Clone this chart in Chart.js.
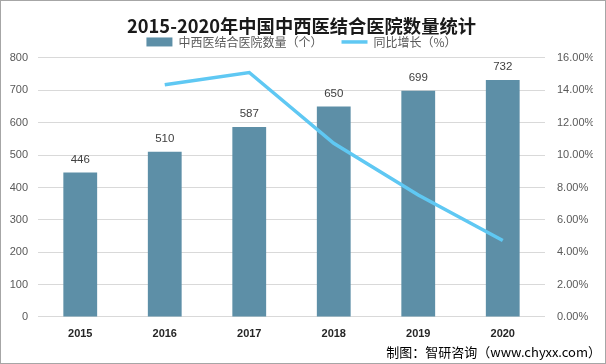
<!DOCTYPE html>
<html>
<head>
<meta charset="utf-8">
<script src="https://cdn.jsdelivr.net/npm/chart.js@4"></script>
<style>
  html, body { margin: 0; padding: 0; background: #fff; }
  #wrap {
    position: relative;
    width: 606px;
    height: 364px;
    box-sizing: border-box;
    border: 1px solid #a6a6a6;
  }
  #chart { display: block; }
  #source {
    position: absolute;
    right: 4px;
    bottom: 2px;
    font-family: "Noto Sans CJK SC", "Noto Sans", sans-serif;
    font-size: 13px;
    color: #000;
  }
</style>
</head>
<body>
<div id="wrap">
  <canvas id="chart" width="604" height="362"></canvas>
  <div id="source">制图：智研咨询（www.chyxx.com）</div>
</div>
<script>
// chart data
const years = ['2015', '2016', '2017', '2018', '2019', '2020'];
const hospitalCount = [446, 510, 587, 650, 699, 732];
const growthRate = [null, 14.35, 15.10, 10.73, 7.54, 4.72];
const leftTicks = [0, 800, 100];
const rightTicks = [0, 16, 2];

const cjkFont = "'Noto Sans CJK SC', 'Microsoft YaHei', sans-serif";
const numFont = "'Liberation Sans', Arial, sans-serif";
const axisColor = '#595959';

// value labels above the bars
const barLabels = {
    id: 'barLabels',
    afterDatasetsDraw(chart) {
        const ctx = chart.ctx;
        const meta = chart.getDatasetMeta(1);
        ctx.save();
        ctx.font = "11.5px " + numFont;
        ctx.fillStyle = '#404040';
        ctx.textAlign = 'center';
        ctx.textBaseline = 'middle';
        meta.data.forEach(function(bar, i) {
            ctx.fillText(String(hospitalCount[i]), bar.x, bar.y - 13);
        });
        ctx.restore();
    }
};

const canvas = document.getElementById('chart');
const ctx = canvas.getContext('2d');

new Chart(ctx, {
    type: 'bar',
    data: {
        labels: years,
        datasets: [
            {
                type: 'line',
                label: '同比增长（%）',
                data: growthRate,
                yAxisID: 'y1',
                borderColor: '#5fc8f3',
                backgroundColor: '#5fc8f3',
                borderWidth: 3.5,
                pointRadius: 0,
                tension: 0,
                spanGaps: false,
                order: 0
            },
            {
                type: 'bar',
                label: '中西医结合医院数量（个）',
                data: hospitalCount,
                yAxisID: 'y',
                backgroundColor: '#5d8fa7',
                barPercentage: 0.4,
                categoryPercentage: 1.0,
                order: 1
            }
        ]
    },
    options: {
        responsive: false,
        animation: false,
        layout: {
            padding: { left: 9, right: 12, top: 0, bottom: 23 }
        },
        plugins: {
            title: {
                display: true,
                text: '2015-2020年中国中西医结合医院数量统计',
                color: '#1a1a1a',
                font: { size: 18.3, weight: 'bold', family: cjkFont },
                padding: { top: 14, bottom: -6 }
            },
            legend: {
                position: 'top',
                labels: {
                    color: axisColor,
                    font: { size: 12, family: cjkFont },
                    usePointStyle: true,
                    pointStyleWidth: 26,
                    boxHeight: 9,
                    padding: 5,
                    sort: function(a, b) { return b.datasetIndex - a.datasetIndex; },
                    generateLabels: function(chart) {
                        const items = Chart.defaults.plugins.legend.labels.generateLabels(chart);
                        items.forEach(function(item) {
                            if (item.datasetIndex === 0) {
                                item.pointStyle = 'line';
                                item.lineWidth = 3.5;
                                item.strokeStyle = '#5fc8f3';
                            } else {
                                item.pointStyle = 'rect';
                                item.lineWidth = 0;
                                // extra room before the next legend entry
                                item.text = item.text + '\u3000   ';
                            }
                        });
                        return items;
                    }
                }
            },
            tooltip: { enabled: false }
        },
        scales: {
            x: {
                grid: { display: false, drawTicks: false },
                border: { display: false },
                afterFit: function(scale) { scale.height = 23; },
                ticks: {
                    color: '#262626',
                    font: { size: 11, weight: 'bold', family: numFont },
                    padding: 10
                }
            },
            y: {
                position: 'left',
                min: leftTicks[0],
                max: leftTicks[1],
                grid: { color: '#d9d9d9', drawTicks: false },
                border: { display: false },
                afterFit: function(scale) { scale.width = 28; },
                ticks: {
                    stepSize: leftTicks[2],
                    color: axisColor,
                    font: { size: 11, family: numFont },
                    padding: 10
                }
            },
            y1: {
                position: 'right',
                min: rightTicks[0],
                max: rightTicks[1],
                grid: { display: false, drawTicks: false },
                border: { display: false },
                afterFit: function(scale) { scale.width = 48; },
                ticks: {
                    stepSize: rightTicks[2],
                    color: axisColor,
                    font: { size: 11, family: numFont },
                    padding: 12,
                    callback: function(v) { return v.toFixed(2) + '%'; }
                }
            }
        }
    },
    plugins: [barLabels]
});
</script>
</body>
</html>
